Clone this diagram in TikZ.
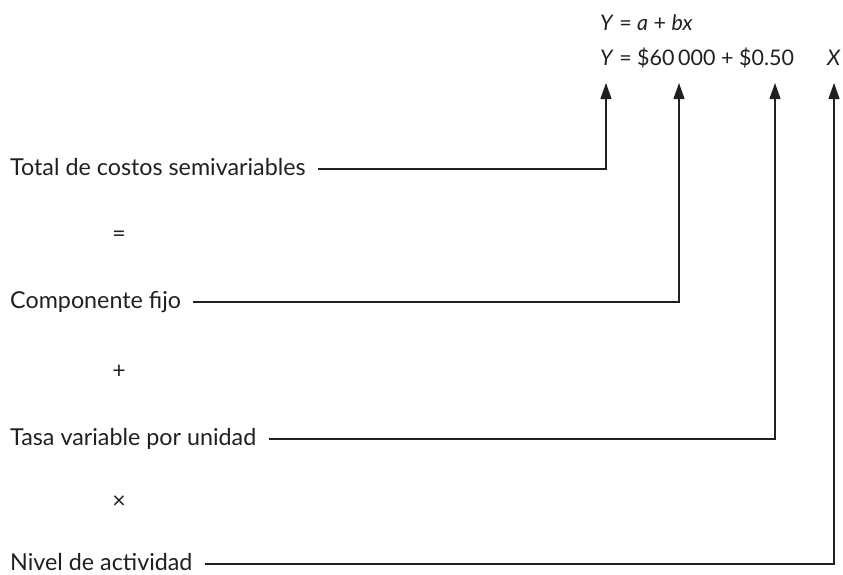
\documentclass[tikz,border=0pt]{standalone}
\usepackage{fontspec}
\setmainfont{Lato}
\usetikzlibrary{arrows.meta}
\definecolor{ink}{HTML}{231F20}
\begin{document}
\begin{tikzpicture}[x=1pt,y=-1pt,
  lbl/.style={anchor=base west,inner sep=0pt,text=ink,font=\fontsize{23.3}{27}\selectfont},
  eqn/.style={anchor=base west,inner sep=0pt,text=ink,font=\fontsize{21.5}{25}\selectfont},
  op/.style={inner sep=0pt,text=ink,font=\fontsize{23}{27}\selectfont},
  conn/.style={draw=ink,line width=1.2pt,-{Triangle[length=16pt,width=11pt]}}]
\useasboundingbox (0,0) rectangle (843,574);
% equations
\node[eqn] (eq1) at (600,30) {\textit{Y} = \textit{a} + \textit{bx}};
\node[eqn] (eq2) at (600,65) {\textit{Y} = \$60\,000 + \$0.50};
\node[eqn] (vx) at (827,65) {\textit{X}};
\coordinate (t1) at (606,83);
\coordinate (t2) at (679,83);
\coordinate (t3) at (775,83);
\coordinate (t4) at (834,83);
% labels
\node[lbl] (r1) at (10,175) {Total de costos semivariables};
\node[op] (o1) at (119,236) {=};
\node[lbl] (r2) at (10,308) {Componente fijo};
\node[op] (o2) at (119,372) {+};
\node[lbl] (r3) at (10,445) {Tasa variable por unidad};
\node[op] (o3) at (119,502) {×};
\node[lbl] (r4) at (10,570) {Nivel de actividad};
% connectors
\draw[conn] ([xshift=12pt,yshift=6pt]r1.base east) -| (t1);
\draw[conn] ([xshift=12pt,yshift=6pt]r2.base east) -| (t2);
\draw[conn] ([xshift=12pt,yshift=6pt]r3.base east) -| (t3);
\draw[conn] ([xshift=12pt,yshift=6pt]r4.base east) -| (t4);
\end{tikzpicture}
\end{document}
